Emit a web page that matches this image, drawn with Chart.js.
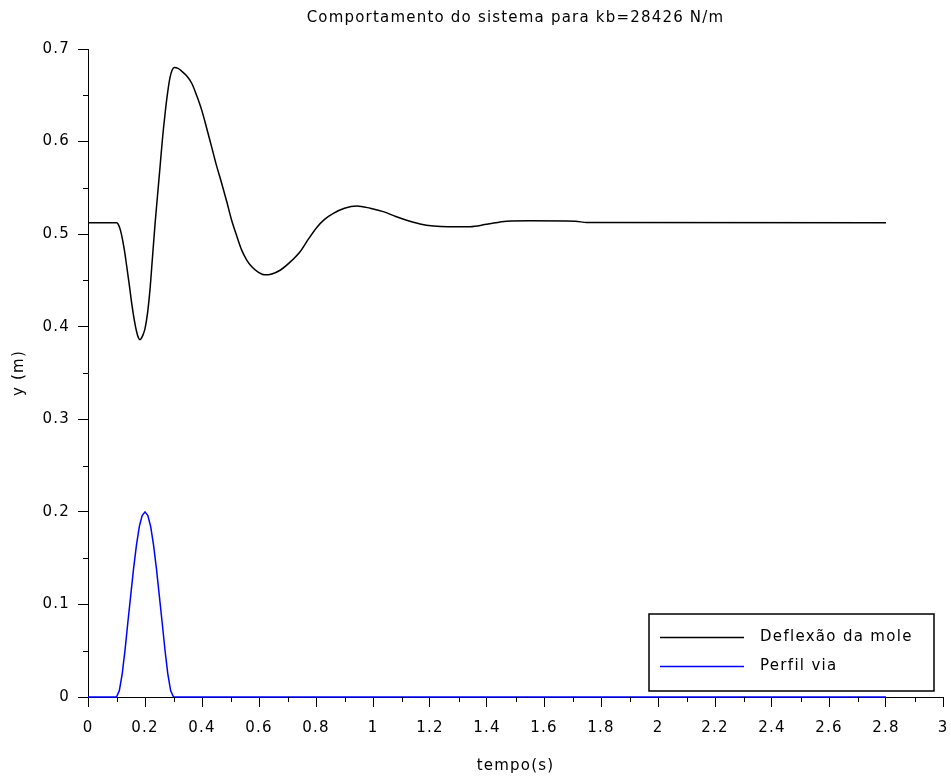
<!DOCTYPE html>
<html><head><meta charset="utf-8">
<script src="https://cdn.jsdelivr.net/npm/chart.js@4/dist/chart.umd.min.js"></script>
<style>html,body{margin:0;padding:0;background:#fff}#wrap{width:951px;height:778px}</style>
</head><body><div id="wrap"><canvas id="c" width="951" height="778"></canvas></div>
<script>
const titleText = 'Comportamento do sistema para kb=28426 N/m';
const xTitle = 'tempo(s)';
const yTitle = 'y (m)';
const seriesNames = ['Deflexão da mole', 'Perfil via'];
const xTicks = [0,0.2,0.4,0.6,0.8,1,1.2,1.4,1.6,1.8,2,2.2,2.4,2.6,2.8,3];
const xMinorTicks = [0.1,0.3,0.5,0.7,0.9,1.1,1.3,1.5,1.7,1.9,2.1,2.3,2.5,2.7,2.9];
const yTicks = [0,0.1,0.2,0.3,0.4,0.5,0.6,0.7];
const yMinorTicks = [0.05,0.15,0.25,0.35,0.45,0.55,0.65];

const tDefl = [0,0.10,0.103,0.11,0.118,0.127,0.136,0.145,0.153,0.162,0.171,0.177,0.182,0.188,0.194,0.2,0.209,0.2175,0.226,0.235,0.244,0.2526,0.261,0.270,0.279,0.2877,0.295,0.303,0.316,0.329,0.346,0.364,0.381,0.399,0.416,0.434,0.451,0.469,0.487,0.504,0.522,0.539,0.557,0.574,0.597,0.621,0.645,0.674,0.71,0.744,0.772,0.802,0.83,0.861,0.9,0.943,0.99,1.036,1.08,1.118,1.165,1.212,1.263,1.34,1.399,1.469,1.55,1.71,1.75,2.8];
const yDefl = [0.5124,0.5124,0.512,0.508,0.499,0.484,0.465,0.445,0.426,0.408,0.394,0.388,0.386,0.388,0.392,0.398,0.415,0.44,0.474,0.510,0.542,0.572,0.602,0.629,0.652,0.669,0.677,0.680,0.679,0.676,0.671,0.663,0.650,0.634,0.615,0.594,0.574,0.555,0.535,0.515,0.498,0.483,0.472,0.465,0.459,0.456,0.457,0.461,0.470,0.481,0.494,0.507,0.516,0.5225,0.528,0.5304,0.528,0.5243,0.519,0.515,0.511,0.5088,0.508,0.508,0.5106,0.514,0.5145,0.514,0.5125,0.5124];

const tVia = [0,0.1,0.11,0.12,0.13,0.14,0.15,0.16,0.17,0.18,0.19,0.2,0.21,0.22,0.23,0.24,0.25,0.26,0.27,0.28,0.29,0.3,2.8];
const yVia = [0,0,0.007,0.025,0.051,0.081,0.11,0.139,0.164,0.184,0.196,0.2,0.196,0.184,0.164,0.139,0.11,0.081,0.051,0.025,0.007,0,0];

const FONT = 'DejaVu Sans';
const toPts = (xs, ys) => xs.map((x, i) => ({x: x, y: ys[i]}));

const spacingPlugin = {
  id: 'spacing',
  beforeLayout(chart) { chart.ctx.letterSpacing = '1.2px'; },
  beforeDraw(chart) { chart.ctx.letterSpacing = '1.2px'; }
};

const minorTicksPlugin = {
  id: 'minorTicks',
  afterDraw(chart) {
    const ctx = chart.ctx, xs = chart.scales.x, ys = chart.scales.y;
    ctx.save();
    ctx.strokeStyle = '#000';
    ctx.lineWidth = 1;
    ctx.beginPath();
    xMinorTicks.forEach(v => {
      const px = Math.round(xs.getPixelForValue(v)) + 0.5;
      ctx.moveTo(px, xs.top); ctx.lineTo(px, xs.top + 5);
    });
    yMinorTicks.forEach(v => {
      const py = Math.round(ys.getPixelForValue(v)) + 0.5;
      ctx.moveTo(ys.right, py); ctx.lineTo(ys.right - 5, py);
    });
    ctx.stroke();
    ctx.restore();
  }
};

const legendBoxPlugin = {
  id: 'legendBox',
  afterDraw(chart) {
    const ctx = chart.ctx, a = chart.chartArea;
    const w = 285, h = 77;
    const r = a.right - 9, b = a.bottom - 6;
    const l = r - w, t = b - h;
    ctx.save();
    ctx.fillStyle = '#fff';
    ctx.fillRect(l, t, w, h);
    ctx.strokeStyle = '#000';
    ctx.lineWidth = 1.5;
    ctx.strokeRect(l, t, w, h);
    ctx.letterSpacing = '1.3px';
    chart.data.datasets.forEach((ds, i) => {
      const y = t + 23.5 + i * 29;
      ctx.strokeStyle = ds.borderColor;
      ctx.lineWidth = 1.5;
      ctx.beginPath(); ctx.moveTo(l + 11, y); ctx.lineTo(l + 95, y); ctx.stroke();
      ctx.fillStyle = '#000';
      ctx.font = '15px "' + FONT + '"';
      ctx.textBaseline = 'middle';
      ctx.textAlign = 'left';
      ctx.fillText(ds.label, l + 111, y);
    });
    ctx.restore();
  }
};

new Chart(document.getElementById('c'), {
  type: 'line',
  data: {
    datasets: [
      { label: seriesNames[0], data: toPts(tDefl, yDefl), borderColor: '#000000', borderWidth: 1.5, pointRadius: 0, cubicInterpolationMode: 'monotone', fill: false, clip: false },
      { label: seriesNames[1], data: toPts(tVia, yVia), borderColor: '#0000ff', borderWidth: 1.5, pointRadius: 0, tension: 0, fill: false, clip: false }
    ]
  },
  options: {
    responsive: false,
    devicePixelRatio: 1,
    animation: false,
    layout: { padding: { left: 0, right: 8, top: 0, bottom: 0 } },
    plugins: {
      legend: { display: false },
      tooltip: { enabled: false },
      title: { display: true, fullSize: false, text: titleText, color: '#000', font: { family: FONT, size: 15, weight: 'normal' }, padding: { top: 9, bottom: 22 } }
    },
    scales: {
      x: {
        type: 'linear', min: 0, max: 3,
        afterBuildTicks: s => { s.ticks = xTicks.map(v => ({ value: v })); },
        afterFit: s => { s.height = 81; s.paddingLeft = 0; s.paddingRight = 0; },
        ticks: { color: '#000', font: { family: FONT, size: 15 }, padding: 12, maxRotation: 0, autoSkip: false, callback: v => String(Number(v.toFixed(1))) },
        grid: { drawOnChartArea: false, drawTicks: true, tickLength: 10, tickColor: '#000', tickWidth: 1 },
        border: { display: true, color: '#000', width: 1 },
        title: { display: true, text: xTitle, color: '#000', font: { family: FONT, size: 15 }, padding: { top: 0, bottom: 3 } }
      },
      y: {
        type: 'linear', min: 0, max: 0.7,
        afterBuildTicks: s => { s.ticks = yTicks.map(v => ({ value: v })); },
        afterFit: s => { s.width = 88; s.paddingTop = 0; s.paddingBottom = 0; },
        ticks: { color: '#000', font: { family: FONT, size: 15 }, padding: 8, autoSkip: false, callback: v => String(Number(v.toFixed(1))) },
        grid: { drawOnChartArea: false, drawTicks: true, tickLength: 10, tickColor: '#000', tickWidth: 1 },
        border: { display: true, color: '#000', width: 1 },
        title: { display: true, text: yTitle, color: '#000', font: { family: FONT, size: 15 }, padding: { top: 10, bottom: 0 } }
      }
    }
  },
  plugins: [spacingPlugin, minorTicksPlugin, legendBoxPlugin]
});
</script>
</body></html>
